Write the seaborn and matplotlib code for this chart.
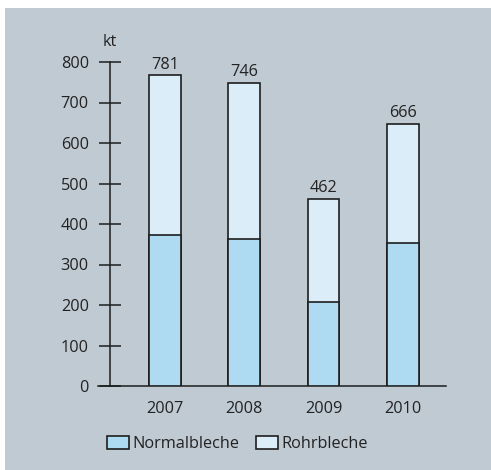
import matplotlib
matplotlib.use("Agg")
import matplotlib.pyplot as plt
from matplotlib.patches import Rectangle
import seaborn as sns
import pandas as pd

# ---- data ----
years = ["2007", "2008", "2009", "2010"]
normalbleche = [374, 364, 208, 354]
rohrbleche = [393, 384, 254, 294]
total_labels = ["781", "746", "462", "666"]
y_ticks = [0, 100, 200, 300, 400, 500, 600, 700, 800]
unit_label = "kt"

BG = "#c0cad3"
C_NORMAL = "#aedbf2"
C_ROHR = "#daedf8"
EDGE = "#1e1e1e"
TXT = "#222222"
FS = 11.7

sns.set_theme(style="white")
plt.rcParams["font.family"] = ["Open Sans", "DejaVu Sans"]
plt.rcParams["font.size"] = FS

fig = plt.figure(figsize=(4.91, 4.70), dpi=100, facecolor="white")
fig.patches.append(Rectangle((5 / 491, 0), 1, 1 - 8 / 470, transform=fig.transFigure,
                             facecolor=BG, edgecolor="none", zorder=-10))

ax = fig.add_axes([98 / 491, 1 - 386 / 470, (446 - 98) / 491, (386 - 62) / 470])
ax.set_facecolor("none")

totals = [n + r for n, r in zip(normalbleche, rohrbleche)]
df = pd.DataFrame({"year": years, "normal": normalbleche, "total": totals})

sns.barplot(data=df, x="year", y="total", color=C_ROHR, saturation=1, width=0.4,
            edgecolor=EDGE, linewidth=1.2, ax=ax, label="Rohrbleche", zorder=2)
sns.barplot(data=df, x="year", y="normal", color=C_NORMAL, saturation=1, width=0.4,
            edgecolor=EDGE, linewidth=1.2, ax=ax, label="Normalbleche", zorder=3)

for i, (t, lab) in enumerate(zip(totals, total_labels)):
    ax.annotate(lab, (i, t), xytext=(0, 2), textcoords="offset points",
                ha="center", va="bottom", fontsize=FS, color=TXT,
                annotation_clip=False)

ax.set_xlim(-0.845, 3.544)
ax.set_ylim(0, 800)
ax.set_yticks(y_ticks)
ax.set_xlabel("")
ax.set_ylabel("")

for s in ["top", "right"]:
    ax.spines[s].set_visible(False)
ax.spines["left"].set_position(("data", -0.694))
ax.spines["left"].set_color(EDGE)
ax.spines["left"].set_linewidth(1.1)
ax.spines["bottom"].set_color(EDGE)
ax.spines["bottom"].set_linewidth(1.1)

ax.tick_params(axis="y", direction="inout", length=16.5, width=1.1, color=EDGE,
               pad=7, labelsize=FS, labelcolor=TXT, left=True)
ax.tick_params(axis="x", length=0, pad=11, labelsize=FS, labelcolor=TXT)

ax.text(-0.694, 1.037, unit_label, transform=ax.get_xaxis_transform(),
        ha="center", va="bottom", fontsize=FS, color=TXT)

handles, labels = ax.get_legend_handles_labels()
order = [labels.index("Normalbleche"), labels.index("Rohrbleche")]
leg = fig.legend([handles[k] for k in order], [labels[k] for k in order],
                 loc="center", bbox_to_anchor=(237.5 / 491, 1 - 444 / 470),
                 ncol=2, frameon=False, fontsize=FS, handlelength=1.35,
                 handleheight=0.85, handletextpad=0.2, columnspacing=1.0,
                 labelcolor=TXT)
if ax.get_legend() is not None:
    ax.get_legend().remove()

fig.savefig("out.png", dpi=100, facecolor="white")
